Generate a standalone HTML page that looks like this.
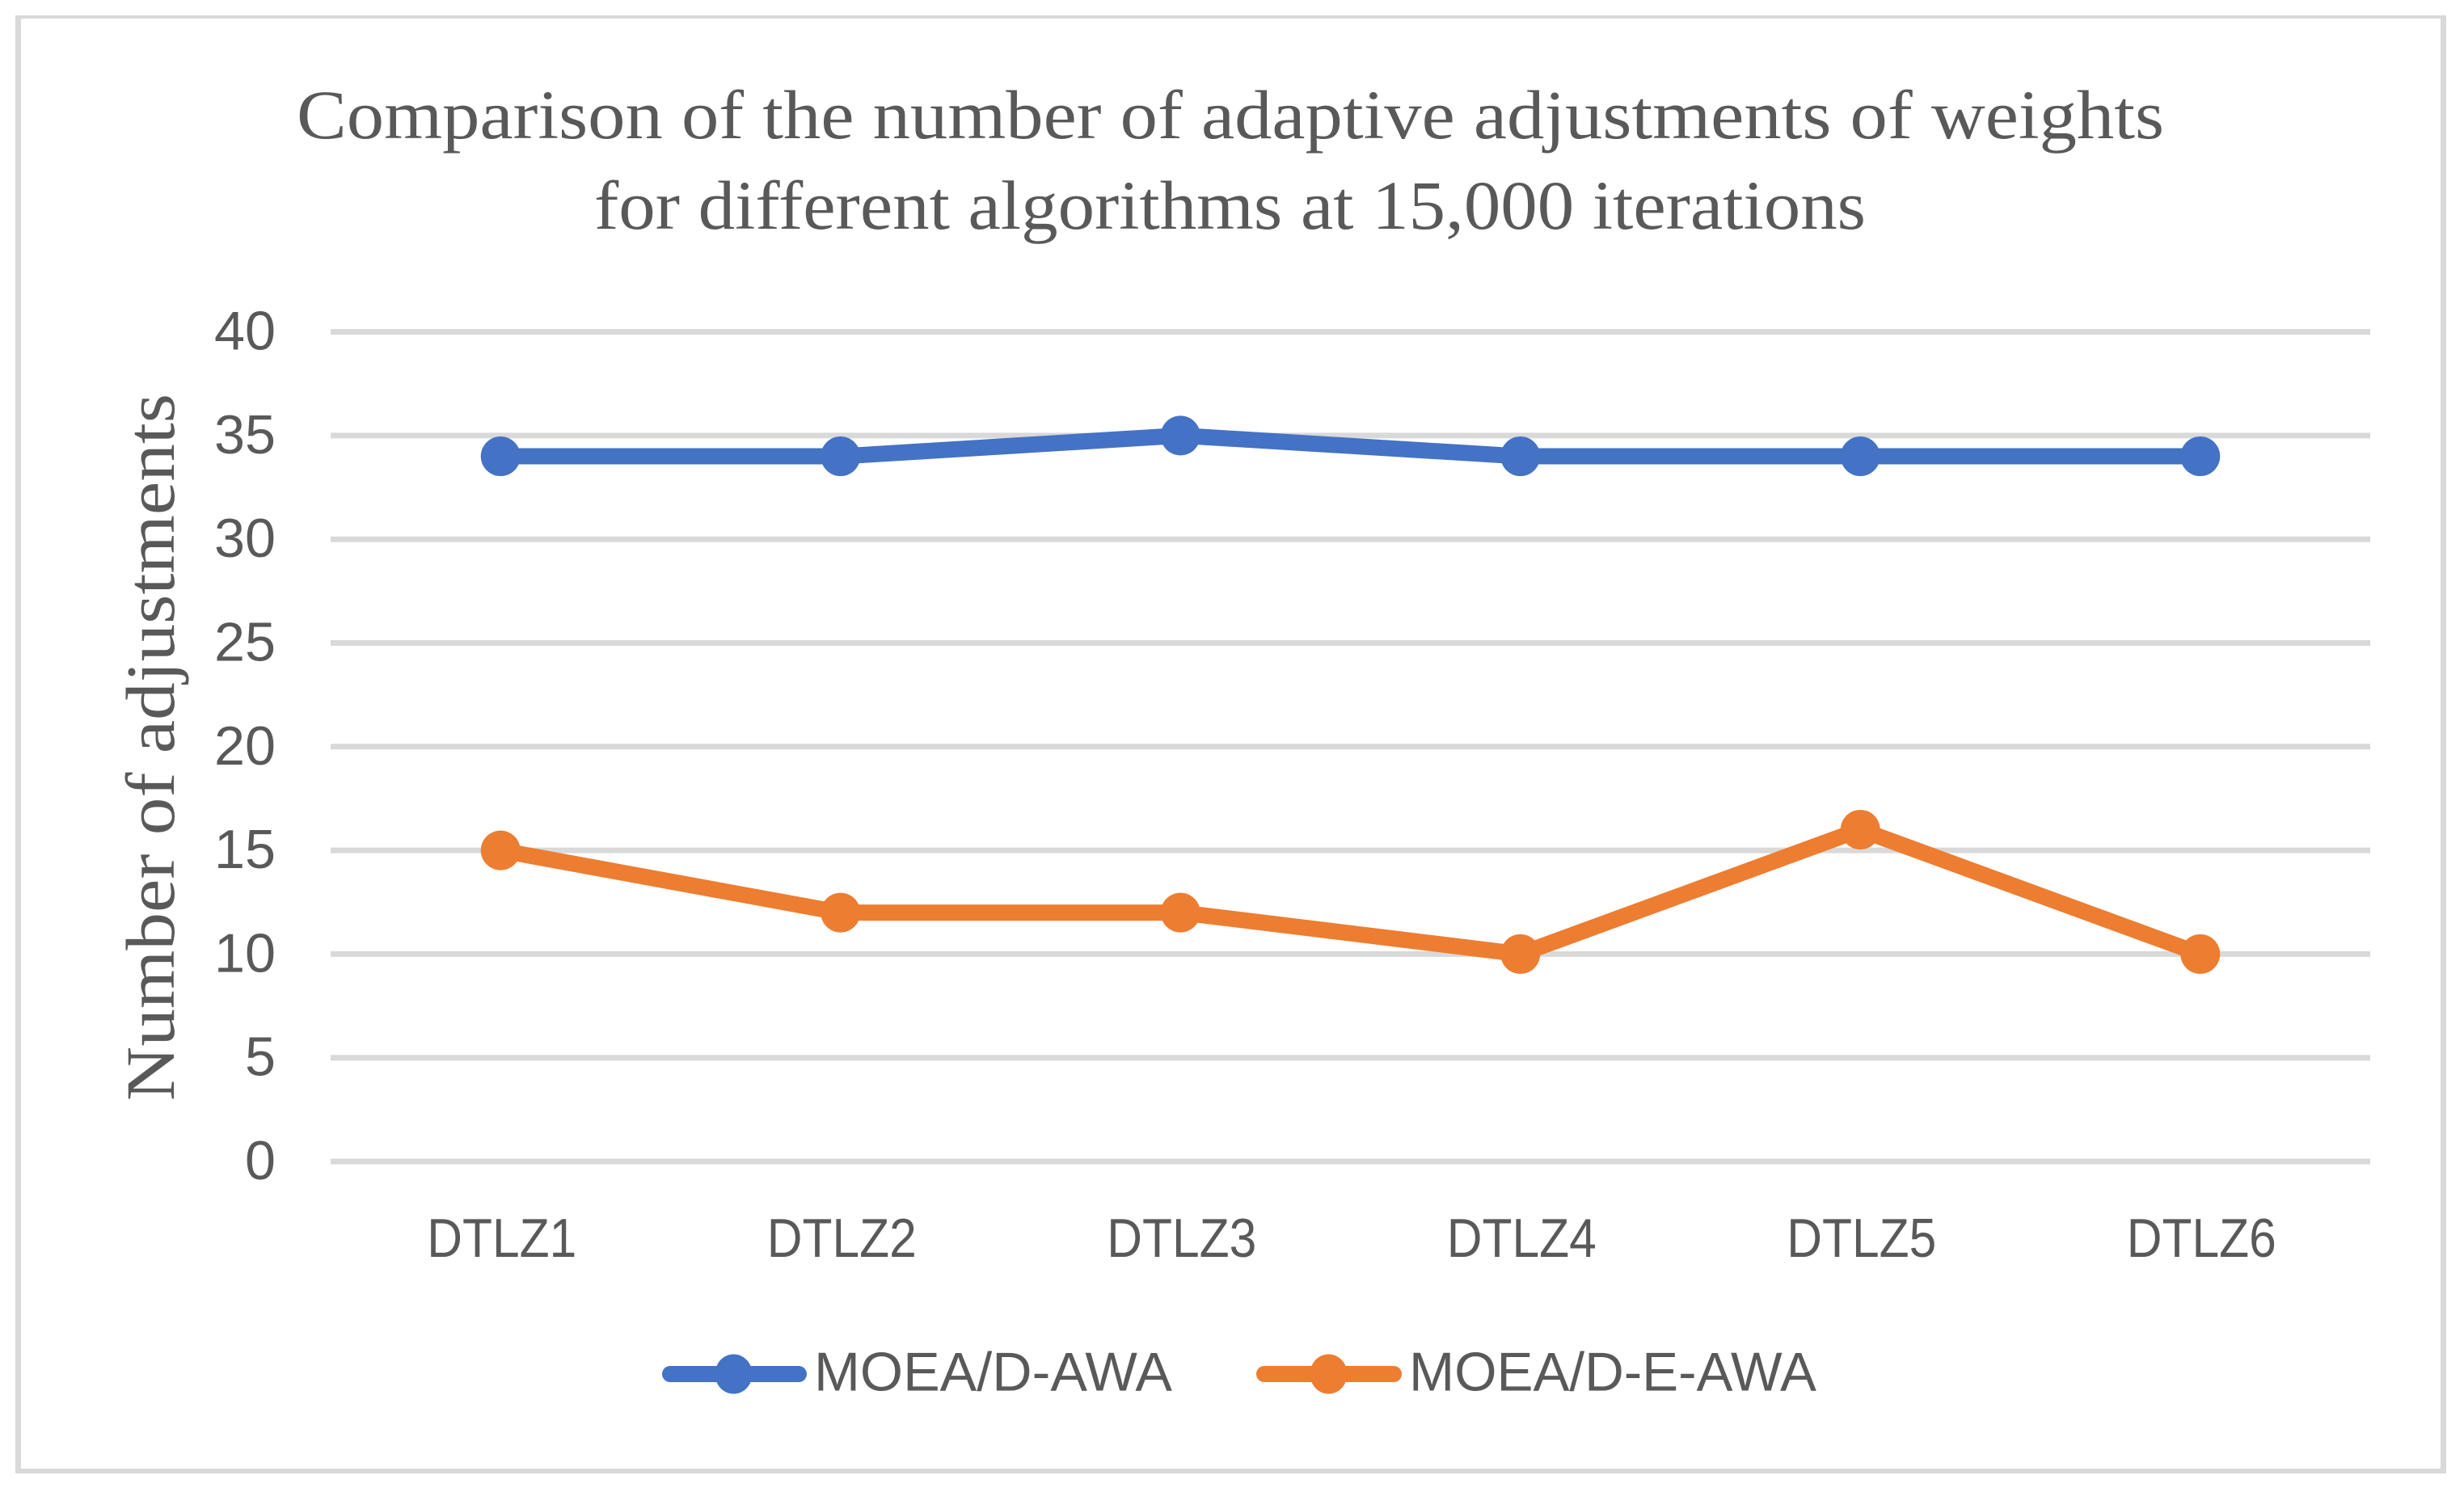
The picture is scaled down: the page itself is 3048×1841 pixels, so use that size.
<!DOCTYPE html>
<html lang="en">
<head>
<meta charset="utf-8">
<title>Comparison of the number of adaptive adjustments of weights</title>
<style>
  html, body { margin: 0; padding: 0; background: #ffffff; }
  svg { display: block; }
  .serif { font-family: "Liberation Serif", serif; fill: #595959; }
  .sans { font-family: "Liberation Sans", sans-serif; fill: #595959; }
</style>
</head>
<body>
<svg id="chart" xmlns="http://www.w3.org/2000/svg" width="3048" height="1841" viewBox="0 0 3048 1841">
  <rect x="0" y="0" width="3048" height="1841" fill="#ffffff"/>
  <g fill="#D9D9D9">
    <rect x="19" y="19" width="3007" height="4"/>
    <rect x="19" y="1817" width="3007" height="6"/>
    <rect x="19" y="19" width="7" height="1804"/>
    <rect x="3019" y="19" width="7" height="1804"/>
  </g>
  <text class="serif" x="367" y="171" font-size="86" textLength="2310" lengthAdjust="spacingAndGlyphs">Comparison of the number of adaptive adjustments of weights</text>
  <text class="serif" x="735" y="283" font-size="86" textLength="1573" lengthAdjust="spacingAndGlyphs">for different algorithms at 15,000 iterations</text>
  <text class="serif" transform="translate(215 1362) rotate(-90)" x="0" y="0" font-size="86" textLength="875" lengthAdjust="spacingAndGlyphs">Number of adjustments</text>
  <g id="grid"></g>
  <g id="y-ticks"></g>
  <g id="x-ticks"></g>
  <g id="series"></g>
  <g>
    <g>
      <line x1="829" y1="1700" x2="988" y2="1700" stroke="#4472C4" stroke-width="20" stroke-linecap="round"/>
      <ellipse cx="907.5" cy="1700" rx="23" ry="24.5" fill="#4472C4"/>
      <text class="sans" x="1007" y="1720.5" font-size="68" textLength="443" lengthAdjust="spacingAndGlyphs">MOEA/D-AWA</text>
    </g>
    <g>
      <line x1="1564" y1="1700" x2="1724" y2="1700" stroke="#ED7D31" stroke-width="20" stroke-linecap="round"/>
      <ellipse cx="1643.5" cy="1700" rx="23" ry="24.5" fill="#ED7D31"/>
      <text class="sans" x="1743" y="1720.5" font-size="68" textLength="504" lengthAdjust="spacingAndGlyphs">MOEA/D-E-AWA</text>
    </g>
  </g>
</svg>
<script>
const categories = ["DTLZ1", "DTLZ2", "DTLZ3", "DTLZ4", "DTLZ5", "DTLZ6"];
const yTickValues = [0, 5, 10, 15, 20, 25, 30, 35, 40];
const seriesAwaValues = [34, 34, 35, 34, 34, 34];
const seriesEAwaValues = [15, 12, 12, 10, 16, 10];

const NS = "http://www.w3.org/2000/svg";
const plotLeft = 409, plotRight = 2932, plotTop = 410.6, plotBottom = 1437;
const yMin = 0, yMax = 40;

function xScale(i) {
  const band = (plotRight - plotLeft) / categories.length;
  return plotLeft + band * (i + 0.5);
}
function yScale(v) {
  return plotBottom - (v - yMin) / (yMax - yMin) * (plotBottom - plotTop);
}
function make(tag, attrs) {
  const el = document.createElementNS(NS, tag);
  for (const k in attrs) el.setAttribute(k, attrs[k]);
  return el;
}

const gridG = document.getElementById("grid");
const yTicksG = document.getElementById("y-ticks");
const xTicksG = document.getElementById("x-ticks");
const seriesG = document.getElementById("series");

yTickValues.forEach(function (v) {
  const line = make("line", { x1: plotLeft, x2: plotRight, y1: yScale(v), y2: yScale(v), stroke: "#D9D9D9", "stroke-width": 7 });
  
  
  gridG.appendChild(line);

  const label = String(v);
  const t = make("text", { x: 341, y: yScale(v) + 22, "text-anchor": "end", "font-size": 68, class: "sans", textLength: 38 * label.length, lengthAdjust: "spacingAndGlyphs" });
  t.textContent = label;
  
  
  yTicksG.appendChild(t);
});

categories.forEach(function (c, i) {
  const t = make("text", { x: xScale(i) + 1.5, y: 1555, "text-anchor": "middle", "font-size": 68, class: "sans", textLength: 185, lengthAdjust: "spacingAndGlyphs" });
  t.textContent = c;
  
  
  xTicksG.appendChild(t);
});

function drawSeries(values, color) {
  const g = make("g", {});
  
  
  const pts = values.map(function (v, i) { return xScale(i) + "," + yScale(v); }).join(" ");
  const line = make("polyline", { points: pts, fill: "none", stroke: color, "stroke-width": 20, "stroke-linejoin": "round", "stroke-linecap": "round" });
  
  
  g.appendChild(line);
  values.forEach(function (v, i) {
    const c = make("circle", { cx: xScale(i), cy: yScale(v), r: 24.5, fill: color });
    
    
    g.appendChild(c);
  });
  seriesG.appendChild(g);
}

drawSeries(seriesAwaValues, "#4472C4");
drawSeries(seriesEAwaValues, "#ED7D31");
</script>
</body>
</html>
